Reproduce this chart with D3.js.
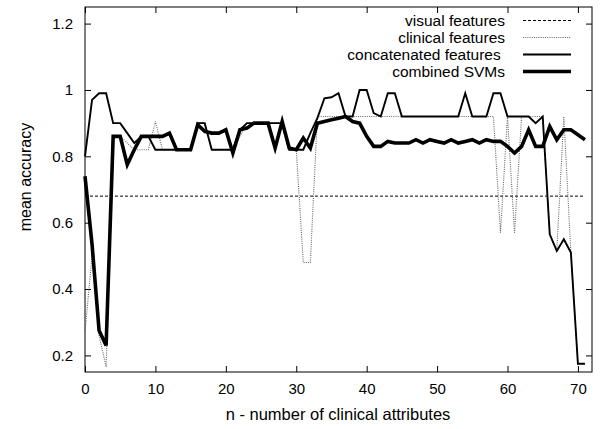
<!DOCTYPE html>
<html>
<head>
<meta charset="utf-8">
<script src="https://cdn.jsdelivr.net/npm/d3@7/dist/d3.min.js"></script>
<style>
  body { margin: 0; background: #fff; }
  text { font-family: "Liberation Sans", Arial, sans-serif; fill: #000; }
  .axis text { font-size: 15px; }
  .axis line { stroke: #000; stroke-width: 1; }
  .axis path { display: none; }
</style>
</head>
<body>
<div id="chart"></div>
<script>
// number of clinical attributes, n = 0 .. 71
var nValues = d3.range(0, 72);

var visualAcc = [
  0.68, 0.68, 0.68, 0.68, 0.68, 0.68, 0.68, 0.68, 0.68, 0.68,
  0.68, 0.68, 0.68, 0.68, 0.68, 0.68, 0.68, 0.68, 0.68, 0.68,
  0.68, 0.68, 0.68, 0.68, 0.68, 0.68, 0.68, 0.68, 0.68, 0.68,
  0.68, 0.68, 0.68, 0.68, 0.68, 0.68, 0.68, 0.68, 0.68, 0.68,
  0.68, 0.68, 0.68, 0.68, 0.68, 0.68, 0.68, 0.68, 0.68, 0.68,
  0.68, 0.68, 0.68, 0.68, 0.68, 0.68, 0.68, 0.68, 0.68, 0.68,
  0.68, 0.68, 0.68, 0.68, 0.68, 0.68, 0.68, 0.68, 0.68, 0.68,
  0.68, 0.68
];

var clinicalAcc = [
  0.27, 0.50, 0.26, 0.165, 0.86, 0.86, 0.84, 0.82, 0.82, 0.82,
  0.905, 0.82, 0.82, 0.82, 0.82, 0.82, 0.90, 0.90, 0.82, 0.82,
  0.82, 0.82, 0.86, 0.90, 0.90, 0.90, 0.90, 0.90, 0.90, 0.82,
  0.82, 0.48, 0.48, 0.92, 0.92, 0.92, 0.92, 0.92, 0.92, 0.92,
  0.92, 0.92, 0.92, 0.92, 0.92, 0.92, 0.92, 0.92, 0.92, 0.92,
  0.92, 0.92, 0.92, 0.92, 0.92, 0.92, 0.92, 0.92, 0.92, 0.57,
  0.92, 0.57, 0.92, 0.92, 0.92, 0.92, 0.565, 0.515, 0.92, 0.51,
  0.175, 0.175
];

var concatAcc = [
  0.80, 0.97, 0.99, 0.99, 0.90, 0.90, 0.87, 0.84, 0.86, 0.86,
  0.82, 0.82, 0.82, 0.82, 0.82, 0.82, 0.90, 0.90, 0.82, 0.82,
  0.82, 0.82, 0.88, 0.90, 0.90, 0.90, 0.90, 0.90, 0.90, 0.82,
  0.82, 0.82, 0.87, 0.915, 0.975, 0.978, 0.99, 0.92, 0.92, 1.00,
  1.00, 0.93, 0.92, 0.99, 0.99, 0.92, 0.92, 0.92, 0.92, 0.92,
  0.92, 0.92, 0.92, 0.92, 0.99, 0.92, 0.92, 0.92, 0.99, 0.99,
  0.92, 0.92, 0.92, 0.92, 0.90, 0.92, 0.565, 0.515, 0.55, 0.51,
  0.175, 0.175
];

var combinedAcc = [
  0.74, 0.535, 0.275, 0.23, 0.86, 0.86, 0.775, 0.82, 0.86, 0.86,
  0.86, 0.86, 0.87, 0.82, 0.82, 0.82, 0.895, 0.875, 0.87, 0.87,
  0.88, 0.81, 0.88, 0.885, 0.90, 0.90, 0.90, 0.825, 0.905, 0.825,
  0.82, 0.855, 0.825, 0.90, 0.905, 0.91, 0.915, 0.92, 0.905, 0.90,
  0.86, 0.83, 0.83, 0.845, 0.84, 0.84, 0.84, 0.85, 0.84, 0.85,
  0.845, 0.84, 0.85, 0.84, 0.845, 0.85, 0.84, 0.85, 0.845, 0.845,
  0.83, 0.81, 0.83, 0.88, 0.83, 0.83, 0.89, 0.85, 0.88, 0.88,
  0.865, 0.85
];

var seriesNames = ["visual features", "clinical features", "concatenated features ", "combined SVMs"];
var xTickValues = [0, 10, 20, 30, 40, 50, 60, 70];
var yTickValues = [0.2, 0.4, 0.6, 0.8, 1.0, 1.2];
var yTickLabels = ["0.2", "0.4", "0.6", "0.8", "1", "1.2"];

var svg = d3.select("#chart")
            .append("svg")
            .attr("width", 600)
            .attr("height", 429);

var margin = {top: 7, right: 8, bottom: 57, left: 85},
    width = +svg.attr("width") - margin.left - margin.right,
    height = +svg.attr("height") - margin.top - margin.bottom;

var x = d3.scaleLinear().domain([0, 72]).range([0, width]),
    y = d3.scaleLinear().domain([0.15, 1.25]).range([height, 0]);

var g = svg.append("g")
    .attr("transform", "translate(" + margin.left + "," + margin.top + ")");

// gnuplot style: ticks point inwards, mirrored on top and right
g.append("g")
    .attr("class", "axis axis--x")
    .attr("transform", "translate(0," + height + ")")
    .call(d3.axisBottom(x).tickValues(xTickValues).tickSizeInner(-6).tickSizeOuter(0).tickPadding(11));

g.append("g")
    .attr("class", "axis")
    .call(d3.axisTop(x).tickValues(xTickValues).tickSizeInner(-6).tickSizeOuter(0).tickFormat(""));

g.append("g")
    .attr("class", "axis axis--y")
    .call(d3.axisLeft(y).tickValues(yTickValues).tickSizeInner(-6).tickSizeOuter(0).tickPadding(12)
      .tickFormat(function(d, i) { return yTickLabels[i]; }));

g.append("g")
    .attr("class", "axis")
    .attr("transform", "translate(" + width + ",0)")
    .call(d3.axisRight(y).tickValues(yTickValues).tickSizeInner(-6).tickSizeOuter(0).tickFormat(""));

// frame
g.append("rect")
    .attr("width", width)
    .attr("height", height)
    .attr("fill", "none")
    .attr("stroke", "#000")
    .attr("stroke-width", 1);

// axis titles
svg.append("text")
    .attr("text-anchor", "middle")
    .attr("x", 338)
    .attr("y", 420)
    .style("font-size", "16.5px")
    .text("n - number of clinical attributes");

svg.append("text")
    .attr("text-anchor", "middle")
    .attr("transform", "translate(31,177)rotate(-90)")
    .style("font-size", "16px")
    .text("mean accuracy");

var styles = [
  {values: visualAcc,   stroke: "#000",  width: 1,   dash: "3,2"},
  {values: clinicalAcc, stroke: "#666",  width: 1.1, dash: "1,1.2"},
  {values: concatAcc,   stroke: "#000",  width: 1.9, dash: null},
  {values: combinedAcc, stroke: "#000",  width: 3.6, dash: null}
];

var line = d3.line()
    .x(function(d) { return x(d.n); })
    .y(function(d) { return y(d.acc); });

styles.forEach(function(s) {
  var pts = nValues.map(function(n, i) { return {n: n, acc: s.values[i]}; });
  g.append("path")
      .datum(pts)
      .attr("fill", "none")
      .attr("stroke", s.stroke)
      .attr("stroke-width", s.width)
      .attr("stroke-dasharray", s.dash)
      .attr("stroke-linejoin", "miter")
      .attr("d", line);
});

// legend
var legend = svg.append("g");
seriesNames.forEach(function(name, i) {
  var yy = 20.5 + i * 17;
  legend.append("text")
      .attr("x", 505)
      .attr("y", yy + 5.5)
      .attr("text-anchor", "end")
      .style("font-size", "15.5px")
      .style("white-space", "pre")
      .text(name);
  legend.append("line")
      .attr("x1", 523).attr("x2", 571)
      .attr("y1", yy).attr("y2", yy)
      .attr("stroke", styles[i].stroke)
      .attr("stroke-width", styles[i].width)
      .attr("stroke-dasharray", styles[i].dash);
});
</script>
</body>
</html>
